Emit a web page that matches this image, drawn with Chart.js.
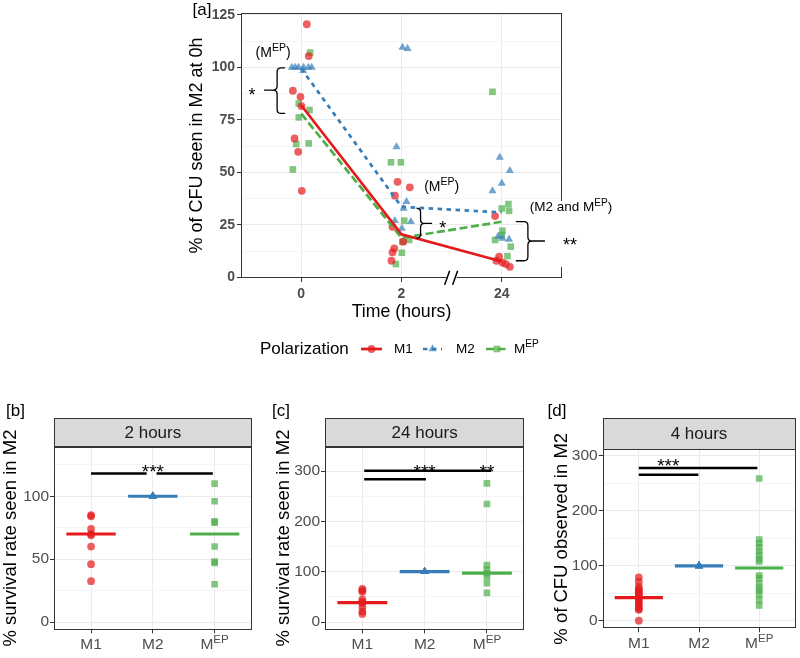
<!DOCTYPE html>
<html><head><meta charset="utf-8">
<script src="https://cdn.jsdelivr.net/npm/chart.js@4.4.0/dist/chart.umd.min.js"></script>
<style>
html,body{margin:0;padding:0;background:#fff;}
#wrap{position:relative;width:800px;height:658px;overflow:hidden;background:#fff;}
canvas{position:absolute;}
</style></head><body>
<div id="wrap">
<canvas id="ca" width="800" height="370" style="left:0;top:0"></canvas>
<canvas id="cb" width="262" height="263" style="left:0;top:395px"></canvas>
<canvas id="cc" width="265" height="263" style="left:265px;top:395px"></canvas>
<canvas id="cd" width="270" height="263" style="left:530px;top:395px"></canvas>
</div>
<script>
// ---------------- DATA ----------------
const timeLabels = ['0', '2', '24'];
const groupNames = ['M1', 'M2', 'MEP'];

// Panel [a]: individual values per time point (0h, 2h, 24h) and horizontal jitter
const m1Points = [[120.6,105.4,88.9,86.0,81.6,66.2,59.8,41.2],[45.5,42.9,38.9,24.1,17.0,13.8,11.9,7.9],[29.2,9.8,7.9,7.0,6.3,5.0]];
const m1Jitter = [[0.056,0.075,-0.083,-0.007,0.003,-0.066,-0.03,0.006],[-0.04,0.083,-0.066,-0.09,0.017,-0.072,-0.09,-0.1],[-0.067,-0.027,-0.054,0.006,0.04,0.08]];
const m2Points = [[100,100,100,100,100,100,98.5],[109.5,109,62.2,36.0,32.8,27.0,26.5,23.3],[57.1,50.8,44.8,41.2,18.6,18.1,19.5]];
const m2Jitter = [[-0.093,-0.06,-0.027,0.023,0.072,0.105,0.02],[0.01,0.06,-0.05,0.05,0.02,-0.066,0.093,0.004],[-0.02,0.08,0,-0.093,0.006,0.072,-0.037]];
const mepPoints = [[107.1,82.8,79.7,76.2,63.5,63.8,51.4],[54.8,54.8,27.0,17.8,17.0,11.7,6.3],[88.4,34.9,32.8,31.7,22.2,20.1,17.8,14.6,10.1]];
const mepJitter = [[0.089,-0.024,0.083,-0.024,-0.05,0.075,-0.083],[-0.105,-0.006,0.027,0.076,0.01,0.004,-0.056],[-0.093,0.066,0,0.072,0.006,0,-0.067,0.089,0.056]];
const m1Line = [82, 20.5, 7.5];
const m2Line = [99.5, 33.6, 30.9];
const mepLine = [78, 18.8, 26.5];
const aYMajor = [0, 25, 50, 75, 100, 125];
const aYMinor = [12.5, 37.5, 62.5, 87.5, 112.5];

// Panel [b] 2 hours
const bM1 = [85, 84, 74, 70, 69, 60, 46, 32.5];
const bM2 = [100, 100, 100, 100, 100, 100, 100, 100];
const bMEP = [110, 96, 80, 79, 60, 48, 47, 30];
const bMedian = [70, 100, 70];
const bMajor = [0, 50, 100];
const bMinor = [25, 75, 125];
const bSig = [[0, 0.9, 118], [1.06, 1.97, 118]];
const bStars = [[1, 123.3, '***']];

// Panel [c] 24 hours
const cM1 = [66, 63, 60, 45, 40, 38, 30, 21, 16];
const cM2 = [100, 100, 100, 100, 100, 100, 100, 100];
const cMEP = [275.7, 234.6, 113, 104, 97, 90, 77, 58];
const cMedian = [38.5, 100, 97];
const cMajor = [0, 100, 200, 300];
const cMinor = [50, 150, 250];
const cSig = [[0.03, 2.07, 300.8], [0.03, 1.02, 283.7]];
const cStars = [[1, 308.7, '***'], [2, 308.7, '**']];

// Panel [d] 4 hours
const dM1 = [79, 71, 62, 58, 55, 52, 50, 47, 44, 42, 40, 36, 33, 29, 25, 22, 20, 0];
const dM2 = [100, 100, 100, 100, 100, 100, 100, 100, 100, 100];
const dMEP = [259, 148, 141, 134, 126, 120, 112, 108, 82, 77, 68, 60, 55, 48, 38, 28];
const dMedian = [42, 100, 96];
const dMajor = [0, 100, 200, 300];
const dMinor = [50, 150, 250];
const dSig = [[0, 1.97, 278], [0, 0.99, 266]];
const dStars = [[0.49, 291, '***']];

// ---------------- STYLE ----------------
const FONT = '"Liberation Sans", Arial, Helvetica, sans-serif';
Chart.defaults.font.family = FONT;
const SOLID = ['#E41A1C', '#377EB8', '#4DAF4A'];
const ALPHA = ['rgba(228,26,28,0.7)', 'rgba(55,126,184,0.7)', 'rgba(77,175,74,0.7)'];
const STYLES = ['circle', 'triangle', 'rect'];
const RADII = [3.9, 4.7, 4.7];
const DASHES = [[], [4.5, 4.5], [8, 3.5]];

function drawMEP(ctx, x, y, size, align, prefix, suffix, color) {
  prefix = prefix || ''; suffix = suffix || '';
  const sup = size * 0.75;
  ctx.save();
  ctx.fillStyle = color || '#000';
  ctx.textBaseline = 'middle';
  ctx.textAlign = 'left';
  ctx.font = size + 'px ' + FONT;
  const w1 = ctx.measureText(prefix + 'M').width;
  const w3 = ctx.measureText(suffix).width;
  ctx.font = sup + 'px ' + FONT;
  const w2 = ctx.measureText('EP').width;
  const total = w1 + w2 + w3;
  const x0 = align === 'center' ? x - total / 2 : (align === 'right' ? x - total : x);
  ctx.font = size + 'px ' + FONT;
  ctx.fillText(prefix + 'M', x0, y);
  ctx.font = sup + 'px ' + FONT;
  ctx.fillText('EP', x0 + w1, y - size * 0.33);
  ctx.font = size + 'px ' + FONT;
  ctx.fillText(suffix, x0 + w1 + w2, y);
  ctx.restore();
}
function drawStars(ctx, txt, x, yc, size) {
  ctx.save();
  ctx.font = size + 'px ' + FONT;
  ctx.fillStyle = '#000';
  ctx.textAlign = 'center';
  ctx.textBaseline = 'alphabetic';
  ctx.fillText(txt, x, yc + 0.57 * size);
  ctx.restore();
}
function drawShape(ctx, style, x, y, r, color) {
  ctx.save();
  ctx.fillStyle = color;
  ctx.beginPath();
  if (style === 'circle') ctx.arc(x, y, r, 0, Math.PI * 2);
  else if (style === 'triangle') {
    ctx.moveTo(x, y - r);
    ctx.lineTo(x + r * Math.cos(Math.PI / 6), y + r * 0.5);
    ctx.lineTo(x - r * Math.cos(Math.PI / 6), y + r * 0.5);
    ctx.closePath();
  } else {
    const s = Math.SQRT1_2 * r;
    ctx.rect(x - s, y - s, 2 * s, 2 * s);
  }
  ctx.fill();
  ctx.restore();
}
function brace(ctx, x, yTop, yBot, hookX, tipX, yMid) {
  const r = 4;
  const d = Math.sign(hookX - x);
  ctx.save();
  ctx.strokeStyle = '#000';
  ctx.lineWidth = 1.3;
  ctx.beginPath();
  ctx.moveTo(hookX, yTop);
  ctx.lineTo(x + d * r, yTop);
  ctx.quadraticCurveTo(x, yTop, x, yTop + r);
  ctx.lineTo(x, yMid - r);
  ctx.quadraticCurveTo(x, yMid, x - d * r, yMid);
  ctx.quadraticCurveTo(x, yMid, x, yMid + r);
  ctx.lineTo(x, yBot - r);
  ctx.quadraticCurveTo(x, yBot, x + d * r, yBot);
  ctx.lineTo(hookX, yBot);
  ctx.moveTo(x - d * r, yMid);
  ctx.lineTo(tipX, yMid);
  ctx.stroke();
  ctx.restore();
}
function panelBorder(chart) {
  const {ctx, chartArea: a} = chart;
  ctx.save();
  ctx.strokeStyle = '#333';
  ctx.lineWidth = 1;
  ctx.strokeRect(Math.round(a.left) + 0.5, Math.round(a.top) + 0.5, Math.round(a.right - a.left) - 1, Math.round(a.bottom - a.top) - 1);
  ctx.restore();
}

// ---------------- PANEL A ----------------
(function () {
  const datasets = [];
  const pts = [m1Points, m2Points, mepPoints];
  const jit = [m1Jitter, m2Jitter, mepJitter];
  const lines = [m1Line, m2Line, mepLine];
  pts.forEach((g, gi) => {
    const data = [];
    g.forEach((arr, t) => arr.forEach((v, i) => data.push({x: t + jit[gi][t][i], y: v})));
    datasets.push({type: 'scatter', label: groupNames[gi], data, backgroundColor: ALPHA[gi], borderWidth: 0,
      pointStyle: STYLES[gi], pointRadius: RADII[gi], order: 2});
  });
  lines.forEach((l, gi) => {
    datasets.push({type: 'line', label: groupNames[gi] + ' line', data: l.map((v, t) => ({x: t, y: v})),
      borderColor: SOLID[gi], borderWidth: 2.7, borderDash: DASHES[gi], pointRadius: 0, fill: false, tension: 0, order: 1});
  });
  const allY = aYMajor.concat(aYMinor).sort((a, b) => a - b);
  const annot = {
    id: 'annotA',
    afterDatasetsDraw(chart) { panelBorder(chart); },
    afterDraw(chart) {
      const ctx = chart.ctx, xs = chart.scales.x, ys = chart.scales.y;
      const X = v => xs.getPixelForValue(v), Y = v => ys.getPixelForValue(v);
      ctx.save();
      // white label box on the right
      ctx.fillStyle = '#fff';
      ctx.fillRect(X(2.21), Y(36.3), 100, Y(4.9) - Y(36.3));
      // "//" axis break
      const bx = X(1.5), by = Y(0) + 0.5;
      ctx.fillRect(bx - 5, by - 2, 10, 4);
      ctx.strokeStyle = '#000'; ctx.lineWidth = 1.5;
      ctx.beginPath();
      ctx.moveTo(bx - 7, by + 7); ctx.lineTo(bx - 2, by - 7);
      ctx.moveTo(bx + 1, by + 7); ctx.lineTo(bx + 6, by - 7);
      ctx.stroke();
      ctx.restore();
      // annotations
      drawMEP(ctx, X(-0.28), Y(106.8), 14, 'center', '(', ')');
      brace(ctx, X(-0.24), Y(99.8), Y(78.1), X(-0.16), X(-0.37), Y(89.2));
      drawStars(ctx, '*', X(-0.49), Y(89), 18);
      drawMEP(ctx, X(1.40), Y(43.1), 14, 'center', '(', ')');
      brace(ctx, X(1.19), Y(32.9), Y(18.6), X(1.156), X(1.305), Y(25.7));
      drawStars(ctx, '*', X(1.41), Y(25.7), 18);
      drawMEP(ctx, X(2.69), Y(33.3), 13.5, 'center', '(M2 and ', ')');
      brace(ctx, X(2.26), Y(26.5), Y(7.9), X(2.14), X(2.43), Y(17.3));
      drawStars(ctx, '**', X(2.68), Y(17.3), 18);
      // panel tag
      ctx.save();
      ctx.font = '17px ' + FONT; ctx.fillStyle = '#000'; ctx.textAlign = 'center'; ctx.textBaseline = 'middle';
      ctx.fillText('[a]', 202, 10);
      ctx.restore();
      // legend
      const ly = 349;
      ctx.save();
      ctx.font = '17px ' + FONT; ctx.fillStyle = '#000'; ctx.textAlign = 'left'; ctx.textBaseline = 'middle';
      ctx.fillText('Polarization', 260, ly);
      const keys = [[361, 382], [423, 442], [486, 508]];
      const txtX = [394, 456];
      keys.forEach((k, gi) => {
        ctx.save();
        ctx.strokeStyle = SOLID[gi]; ctx.lineWidth = 2.7; ctx.setLineDash(DASHES[gi]);
        ctx.beginPath(); ctx.moveTo(k[0], ly); ctx.lineTo(k[1], ly); ctx.stroke();
        ctx.restore();
        drawShape(ctx, STYLES[gi], (k[0] + k[1]) / 2, ly, RADII[gi], ALPHA[gi]);
      });
      ctx.font = '13.5px ' + FONT; ctx.fillStyle = '#000';
      ctx.fillText('M1', txtX[0], ly);
      ctx.fillText('M2', txtX[1], ly);
      ctx.restore();
      drawMEP(ctx, 514, ly, 13.5, 'left', '', '');
    }
  };
  new Chart(document.getElementById('ca'), {
    type: 'scatter',
    data: {datasets},
    options: {
      responsive: false, animation: false, devicePixelRatio: 1, events: [],
      layout: {padding: {left: 182, right: 238, top: 13, bottom: 40}},
      plugins: {legend: {display: false}, tooltip: {enabled: false}},
      scales: {
        x: {
          type: 'linear', min: -0.6, max: 2.6,
          afterBuildTicks: s => { s.ticks = timeLabels.map((_, i) => ({value: i})); },
          ticks: {callback: v => timeLabels[v] !== undefined ? timeLabels[v] : '', font: {size: 14, weight: 'bold'}, color: '#4D4D4D', padding: 4, autoSkip: false, maxRotation: 0},
          grid: {color: '#EBEBEB', lineWidth: 1, tickLength: 4, tickColor: '#333'},
          border: {display: false},
          title: {display: true, text: 'Time (hours)', font: {size: 17.7}, color: '#000', padding: {top: 0, bottom: 7}},
          afterFit: s => { s.height = 52; }
        },
        y: {
          type: 'linear', min: -0.33, max: 125.95,
          afterBuildTicks: s => { s.ticks = allY.map(v => ({value: v})); },
          ticks: {callback: v => aYMajor.includes(v) ? String(v) : '', font: {size: 14, weight: 'bold'}, color: '#4D4D4D', padding: 2, autoSkip: false},
          grid: {color: c => aYMajor.includes(c.tick.value) ? '#EBEBEB' : '#F4F4F4', lineWidth: 1, tickLength: 4,
                 tickColor: c => aYMajor.includes(c.tick.value) ? '#333' : 'rgba(0,0,0,0)'},
          border: {display: false},
          title: {display: true, text: '% of CFU seen in M2 at 0h', font: {size: 18}, color: '#000', padding: {top: 4, bottom: 0}},
          afterFit: s => { s.width = 59; }
        }
      }
    },
    plugins: [annot]
  });
})();

// ---------------- PANELS B, C, D ----------------
function bottomChart(id, o) {
  const datasets = [];
  [o.m1, o.m2, o.mep].forEach((g, i) => {
    datasets.push({type: 'scatter', label: groupNames[i], data: g.map(v => ({x: i, y: v})), backgroundColor: ALPHA[i],
      borderWidth: 0, pointStyle: STYLES[i], pointRadius: RADII[i], order: 3});
  });
  o.med.forEach((m, i) => {
    datasets.push({type: 'line', label: groupNames[i] + ' median', data: [{x: i - 0.4, y: m}, {x: i + 0.4, y: m}],
      borderColor: SOLID[i], borderWidth: 3.2, pointRadius: 0, fill: false, order: 2});
  });
  o.sig.forEach((s, k) => {
    datasets.push({type: 'line', label: 'sig' + k, data: [{x: s[0], y: s[2]}, {x: s[1], y: s[2]}],
      borderColor: '#000', borderWidth: 2.5, pointRadius: 0, fill: false, order: 1});
  });
  const allY = o.major.concat(o.minor).sort((a, b) => a - b);
  const plug = {
    id: 'bot' + id,
    afterDatasetsDraw(chart) {
      const {ctx, chartArea: a} = chart;
      panelBorder(chart);
      // strip
      ctx.save();
      const top = 23.3;
      ctx.fillStyle = '#D9D9D9';
      ctx.fillRect(Math.round(a.left) + 0.5, Math.round(top) + 0.5, Math.round(a.right - a.left) - 1, Math.round(a.top - top));
      ctx.strokeStyle = '#333'; ctx.lineWidth = 1;
      ctx.strokeRect(Math.round(a.left) + 0.5, Math.round(top) + 0.5, Math.round(a.right - a.left) - 1, Math.round(a.top - top));
      ctx.font = '17px ' + FONT; ctx.fillStyle = '#1A1A1A'; ctx.textAlign = 'center'; ctx.textBaseline = 'middle';
      ctx.fillText(o.strip, (a.left + a.right) / 2, (top + a.top) / 2 + 0.5);
      ctx.restore();
    },
    afterDraw(chart) {
      const ctx = chart.ctx, xs = chart.scales.x, ys = chart.scales.y, a = chart.chartArea;
      o.stars.forEach(s => drawStars(ctx, s[2], xs.getPixelForValue(s[0]), ys.getPixelForValue(s[1]), 19));
      drawMEP(ctx, xs.getPixelForValue(2), a.bottom + 6 + 15.5 * 0.6, 15.5, 'center', '', '', '#4D4D4D');
      ctx.save();
      ctx.font = '17px ' + FONT; ctx.fillStyle = '#000'; ctx.textAlign = 'center'; ctx.textBaseline = 'middle';
      ctx.fillText(o.tag, o.tagX, 16.5);
      ctx.restore();
    }
  };
  new Chart(document.getElementById(id), {
    type: 'scatter',
    data: {datasets},
    options: {
      responsive: false, animation: false, devicePixelRatio: 1, events: [],
      layout: {padding: {left: o.padLeft, right: o.padRight, top: o.padTop, bottom: 0}},
      plugins: {legend: {display: false}, tooltip: {enabled: false}},
      scales: {
        x: {
          type: 'linear', min: -0.6, max: 2.6,
          afterBuildTicks: s => { s.ticks = groupNames.map((_, i) => ({value: i})); },
          ticks: {callback: v => (groupNames[v] === 'MEP' || groupNames[v] === undefined) ? '' : groupNames[v], font: {size: 15.5}, color: '#4D4D4D', padding: 2, autoSkip: false, maxRotation: 0},
          grid: {color: '#EBEBEB', lineWidth: 1, tickLength: 4, tickColor: '#333'},
          border: {display: false},
          afterFit: s => { s.height = o.xHeight; }
        },
        y: {
          type: 'linear', min: o.min, max: o.max,
          afterBuildTicks: s => { s.ticks = allY.map(v => ({value: v})); },
          ticks: {callback: v => o.major.includes(v) ? String(v) : '', font: {size: 15.5}, color: '#4D4D4D', padding: 1, autoSkip: false},
          grid: {color: c => o.major.includes(c.tick.value) ? '#EBEBEB' : '#F4F4F4', lineWidth: 1, tickLength: 4,
                 tickColor: c => o.major.includes(c.tick.value) ? '#333' : 'rgba(0,0,0,0)'},
          border: {display: false},
          title: {display: true, text: o.title, font: {size: 18.5}, color: '#000', padding: {top: o.titlePad, bottom: 0}},
          afterFit: s => { s.width = o.yWidth; }
        }
      }
    },
    plugins: [plug]
  });
}

bottomChart('cb', {m1: bM1, m2: bM2, mep: bMEP, med: bMedian, sig: bSig, stars: bStars, major: bMajor, minor: bMinor,
  min: -5.8, max: 139.4, strip: '2 hours', title: '% survival rate seen in M2', tag: '[b]', tagX: 15.5,
  padLeft: 0, titlePad: 0, yWidth: 54, padRight: 10.3, padTop: 51.7, xHeight: 28.7});
bottomChart('cc', {m1: cM1, m2: cM2, mep: cMEP, med: cMedian, sig: cSig, stars: cStars, major: cMajor, minor: cMinor,
  min: -14.5, max: 348.5, strip: '24 hours', title: '% survival rate seen in M2', tag: '[c]', tagX: 16,
  padLeft: 4, titlePad: 4, yWidth: 56, padRight: 5.7, padTop: 51.7, xHeight: 28.7});
bottomChart('cd', {m1: dM1, m2: dM2, mep: dMEP, med: dMedian, sig: dSig, stars: dStars, major: dMajor, minor: dMinor,
  min: -13.8, max: 312.2, strip: '4 hours', title: '% of CFU observed in M2', tag: '[d]', tagX: 27,
  padLeft: 17, titlePad: 4, yWidth: 55.7, padRight: 2, padTop: 54.3, xHeight: 29.7});
</script>
</body></html>
